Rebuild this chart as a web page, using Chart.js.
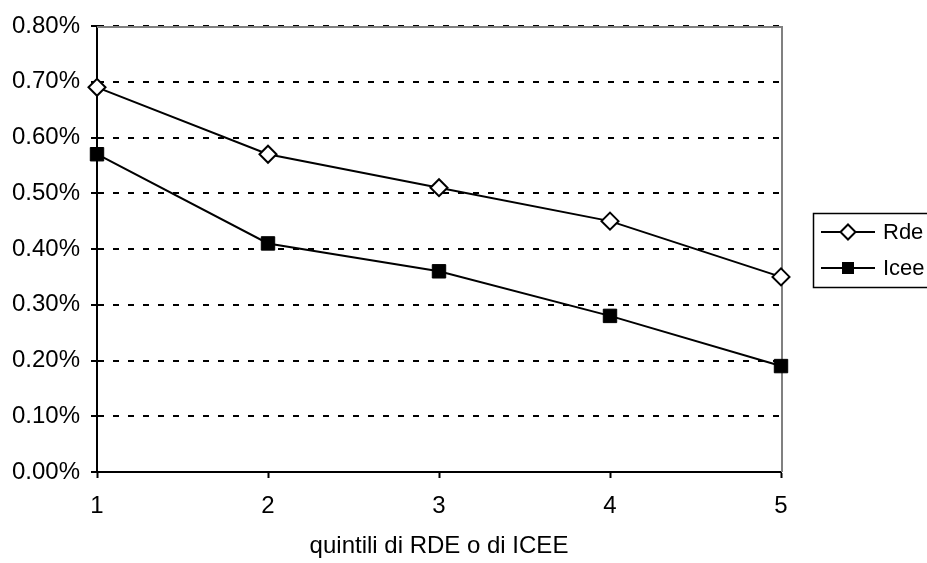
<!DOCTYPE html>
<html>
<head>
<meta charset="utf-8">
<script src="https://cdn.jsdelivr.net/npm/chart.js@4/dist/chart.umd.min.js"></script>
<style>
html,body{margin:0;padding:0;background:#fff;}
canvas{display:block;}
</style>
</head>
<body>
<canvas id="c" width="927" height="563"></canvas>
<script>
const quintili = ['1', '2', '3', '4', '5'];
const rde = [0.69, 0.57, 0.51, 0.45, 0.35];
const icee = [0.57, 0.41, 0.36, 0.28, 0.19];
const seriesNames = ['Rde', 'Icee'];
const xTitle = 'quintili di RDE o di ICEE';
const yMin = 0, yMax = 0.8, yStep = 0.1;

const FONT = '"Liberation Sans", Arial, sans-serif';

const frameAndLegend = {
  id: 'frameAndLegend',
  beforeDatasetsDraw(chart) {
    const {ctx, chartArea: a} = chart;
    ctx.save();
    ctx.strokeStyle = '#808080';
    ctx.lineWidth = 2;
    ctx.beginPath();
    ctx.moveTo(a.left, a.top + 1);
    ctx.lineTo(a.right + 1, a.top + 1);
    ctx.lineTo(a.right + 1, a.bottom);
    ctx.stroke();
    ctx.restore();
  },
  afterDraw(chart) {
    const {ctx} = chart;
    ctx.save();
    ctx.strokeStyle = '#000';
    ctx.lineWidth = 1.5;
    ctx.strokeRect(813.5, 213.5, 140, 74);
    const rows = [232, 268];
    chart.data.datasets.forEach((ds, i) => {
      const y = rows[i];
      ctx.strokeStyle = '#000';
      ctx.lineWidth = 2;
      ctx.beginPath();
      ctx.moveTo(821, y);
      ctx.lineTo(875, y);
      ctx.stroke();
      const cx = 848;
      if (ds.pointStyle === 'rectRot') {
        const r = 7.5;
        ctx.beginPath();
        ctx.moveTo(cx - r, y);
        ctx.lineTo(cx, y - r);
        ctx.lineTo(cx + r, y);
        ctx.lineTo(cx, y + r);
        ctx.closePath();
        ctx.fillStyle = '#fff';
        ctx.fill();
        ctx.lineWidth = 2;
        ctx.stroke();
      } else {
        const s = 6;
        ctx.fillStyle = '#000';
        ctx.fillRect(cx - s, y - s, 2 * s, 2 * s);
      }
      ctx.fillStyle = '#000';
      ctx.font = '22px ' + FONT;
      ctx.textAlign = 'left';
      ctx.textBaseline = 'middle';
      ctx.fillText(ds.label, 883, y + 1);
    });
    ctx.restore();
  }
};

new Chart(document.getElementById('c'), {
  type: 'line',
  data: {
    labels: quintili,
    datasets: [
      {
        label: seriesNames[0],
        data: rde,
        borderColor: '#000',
        borderWidth: 2,
        backgroundColor: '#fff',
        pointStyle: 'rectRot',
        pointRadius: 8.5,
        pointBorderWidth: 2,
        pointBackgroundColor: '#fff',
        pointBorderColor: '#000',
        tension: 0,
        clip: false
      },
      {
        label: seriesNames[1],
        data: icee,
        borderColor: '#000',
        borderWidth: 2,
        backgroundColor: '#000',
        pointStyle: 'rect',
        pointRadius: 9.5,
        pointBorderWidth: 1,
        pointBackgroundColor: '#000',
        pointBorderColor: '#000',
        tension: 0,
        clip: false
      }
    ]
  },
  options: {
    responsive: false,
    animation: false,
    devicePixelRatio: 1,
    layout: {padding: {top: 26, right: 146, bottom: 0, left: 0}},
    plugins: {legend: {display: false}, tooltip: {enabled: false}},
    scales: {
      x: {
        type: 'category',
        offset: false,
        afterFit(s) { s.height = 91; },
        grid: {drawOnChartArea: false, drawTicks: true, tickLength: 6, tickColor: '#000', tickWidth: 2},
        border: {color: '#000', width: 2},
        ticks: {color: '#000', font: {family: FONT, size: 24}, padding: 14, maxRotation: 0},
        title: {display: true, text: xTitle, color: '#000', font: {family: FONT, size: 24}, padding: {top: 0, bottom: 2}}
      },
      y: {
        min: yMin, max: yMax,
        afterFit(s) { s.width = 97; },
        grid: {color: '#000', lineWidth: 2, tickLength: 6, tickColor: '#000', tickWidth: 2, tickBorderDash: []},
        border: {color: '#000', width: 2, dash: [6, 9]},
        ticks: {
          stepSize: yStep, color: '#000', padding: 11,
          font: {family: FONT, size: 24},
          callback: v => v.toFixed(2) + '%'
        }
      }
    }
  },
  plugins: [frameAndLegend]
});
</script>
</body>
</html>
